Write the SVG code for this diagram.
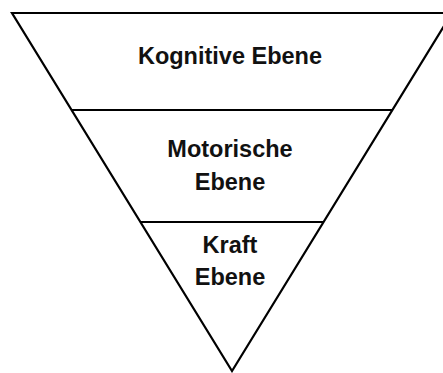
<svg xmlns="http://www.w3.org/2000/svg" width="443" height="373" viewBox="0 0 443 373">
  <style>
    .edge { fill: none; stroke: #000; stroke-width: 2.2; stroke-linejoin: miter; }
    .divider { stroke: #000; stroke-width: 2; }
    .label { font-family: "Liberation Sans", Arial, sans-serif; font-weight: bold; font-size: 23.5px; fill: #111; text-anchor: middle; }
  </style>
  <rect width="443" height="373" fill="#fff"/>

  <!-- inverted triangle outline -->
  <g id="pyramid">
    <polygon class="edge" points="12,13 452,13 232,371"/>
  </g>

  <!-- horizontal level dividers -->
  <g id="connectors">
    <line class="divider" x1="71.5" y1="110" x2="392.5" y2="110"/>
    <line class="divider" x1="140" y1="222" x2="324" y2="222"/>
  </g>

  <g id="level-cognitive">
    <text class="label" x="230" y="64">Kognitive Ebene</text>
  </g>

  <g id="level-motor">
    <text class="label" x="230" y="157">Motorische</text>
    <text class="label" x="230" y="190">Ebene</text>
  </g>

  <g id="level-strength">
    <text class="label" x="230" y="253">Kraft</text>
    <text class="label" x="230" y="285">Ebene</text>
  </g>
</svg>
